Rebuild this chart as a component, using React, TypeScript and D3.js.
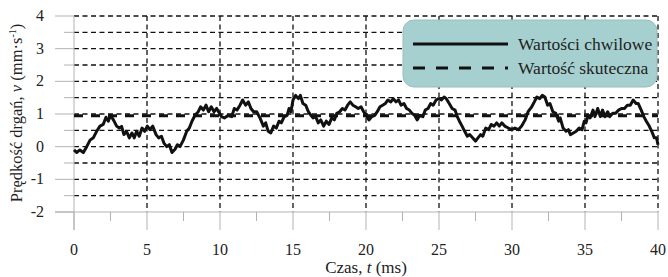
import React from "react";
import * as d3 from "d3";

// time (ms) and instantaneous velocity (mm/s)
const times = [
  0, 0.18, 0.4, 0.64, 0.87, 1.1, 1.32, 1.55, 1.78, 2.0, 2.19, 2.35, 2.5, 2.7, 2.92, 3.1, 3.26, 3.42, 3.6, 3.79,
  3.97, 4.13, 4.29, 4.47, 4.66, 4.84, 5.02, 5.2, 5.39, 5.62, 5.8, 5.99, 6.16, 6.35, 6.53, 6.71, 6.92, 7.08, 7.26, 7.49,
  7.72, 7.9, 8.08, 8.29, 8.51, 8.67, 8.86, 9.04, 9.22, 9.4, 9.59, 9.77, 9.9, 10.1, 10.3, 10.57, 10.8, 10.98, 11.16, 11.37,
  11.55, 11.76, 11.94, 12.12, 12.3, 12.51, 12.74, 12.97, 13.13, 13.3, 13.48, 13.67, 13.86, 14.04, 14.2, 14.4, 14.6, 14.73, 14.86, 15.0,
  15.18, 15.37, 15.5, 15.68, 15.87, 16.05, 16.23, 16.37, 16.55, 16.73, 16.9, 17.1, 17.28, 17.47, 17.65, 17.83, 18.0, 18.2, 18.38, 18.56,
  18.74, 18.92, 19.1, 19.29, 19.47, 19.66, 19.84, 20.0, 20.2, 20.4, 20.6, 20.77, 20.96, 21.14, 21.32, 21.5, 21.7, 21.87, 22.05, 22.23,
  22.4, 22.6, 22.78, 22.97, 23.15, 23.33, 23.5, 23.7, 23.9, 24.06, 24.25, 24.43, 24.6, 24.8, 24.97, 25.16, 25.35, 25.5, 25.7, 25.9,
  26.1, 26.25, 26.4, 26.58, 26.76, 26.94, 27.1, 27.3, 27.5, 27.67, 27.85, 28.0, 28.2, 28.4, 28.58, 28.77, 28.95, 29.13, 29.3, 29.5,
  29.75, 29.98, 30.2, 30.43, 30.66, 30.9, 31.1, 31.35, 31.53, 31.7, 31.9, 32.07, 32.25, 32.44, 32.6, 32.8, 33.0, 33.2, 33.3, 33.5,
  33.7, 33.86, 34.0, 34.2, 34.4, 34.6, 34.8, 34.95, 35.07, 35.2, 35.35, 35.55, 35.68, 35.87, 36.05, 36.2, 36.37, 36.55, 36.7, 36.9,
  37.1, 37.3, 37.5, 37.7, 37.9, 38.1, 38.3, 38.5, 38.65, 38.85, 39.03, 39.2, 39.4, 39.57, 39.75, 39.9, 40.0,
];
const velocity = [
  -0.1, -0.18, -0.1, -0.18, 0.0, 0.2, 0.27, 0.47, 0.63, 0.68, 0.9, 0.78, 0.96, 0.82, 0.63, 0.57, 0.62, 0.37, 0.47, 0.27,
  0.42, 0.27, 0.47, 0.32, 0.57, 0.47, 0.63, 0.52, 0.63, 0.37, 0.27, 0.32, 0.11, 0.0, 0.06, -0.18, -0.08, 0.06, 0.0, 0.2,
  0.47, 0.57, 0.78, 0.96, 1.07, 1.22, 1.12, 1.27, 1.07, 1.22, 1.07, 1.17, 1.07, 0.92, 0.88, 0.96, 0.92, 1.17, 1.12, 1.27,
  1.43, 1.27, 1.37, 1.17, 1.07, 1.07, 0.88, 0.63, 0.73, 0.47, 0.42, 0.63, 0.57, 0.78, 0.73, 0.92, 0.96, 1.17, 1.07, 1.43,
  1.57, 1.47, 1.57, 1.32, 1.27, 1.07, 0.96, 0.88, 0.92, 0.73, 0.82, 0.63, 0.78, 0.68, 0.88, 0.82, 1.02, 1.07, 1.17, 1.12,
  1.27, 1.37, 1.27, 1.22, 1.17, 1.22, 1.07, 0.96, 0.82, 0.92, 0.96, 1.07, 1.22, 1.27, 1.32, 1.43, 1.37, 1.47, 1.37, 1.43,
  1.27, 1.32, 1.17, 1.12, 1.02, 0.96, 0.82, 0.96, 0.92, 1.12, 1.17, 1.32, 1.27, 1.43, 1.47, 1.43, 1.52, 1.47, 1.32, 1.17,
  1.12, 0.92, 0.78, 0.63, 0.47, 0.32, 0.37, 0.27, 0.17, 0.27, 0.37, 0.32, 0.57, 0.52, 0.68, 0.63, 0.73, 0.63, 0.73, 0.63,
  0.57, 0.52, 0.57, 0.52, 0.63, 0.82, 1.07, 1.22, 1.37, 1.52, 1.47, 1.57, 1.52, 1.27, 1.32, 1.07, 1.02, 0.78, 0.88, 0.57,
  0.47, 0.52, 0.37, 0.42, 0.47, 0.57, 0.52, 0.78, 0.73, 0.96, 0.88, 1.12, 0.92, 1.17, 0.92, 1.12, 0.92, 1.07, 0.92, 1.02,
  1.02, 1.12, 1.17, 1.17, 1.27, 1.27, 1.43, 1.32, 1.32, 1.12, 0.92, 0.78, 0.63, 0.47, 0.27, 0.27, 0.06,
];
const rmsValue = 0.95;

const xTicks = [0, 5, 10, 15, 20, 25, 30, 35, 40];
const xMinorTicks = [2.5, 7.5, 12.5, 17.5, 22.5, 27.5, 32.5, 37.5];
const yTicks = [-2, -1, 0, 1, 2, 3, 4];
const yGrid = [-1.5, -1, -0.5, 0, 0.5, 1, 1.5, 2, 2.5, 3, 3.5, 4];
const yMinorTicks = [-1.5, -0.5, 0.5, 1.5, 2.5, 3.5];

const legendLabels = ["Wartości chwilowe", "Wartość skuteczna"];

const W = 668;
const H = 277;
const serif = { fontFamily: "Liberation Serif" };

export default function App() {
  const x = d3.scaleLinear().domain([0, 40]).range([74, 658]);
  const y = d3.scaleLinear().domain([-2, 4]).range([212, 16]);

  const pts = times.map((t, i) => [t, velocity[i]] as [number, number]);
  const line = d3
    .line<[number, number]>()
    .x((d) => x(d[0]))
    .y((d) => y(d[1]))
    .curve(d3.curveLinear);

  const axisCol = "#b3b3b3";

  return (
    <svg width={W} height={H} style={{ position: "absolute", left: 0, top: 0 }}>
      <rect width={W} height={H} fill="#fff" />

      {/* horizontal dashed grid */}
      {yGrid.map((v) => (
        <line key={"hg" + v} x1={x(0)} x2={x(40)} y1={y(v)} y2={y(v)} stroke="#111" strokeWidth={1.3} strokeDasharray="5,3.5" />
      ))}
      {/* vertical dashed grid */}
      {xTicks.slice(1).map((t) => (
        <line key={"vg" + t} x1={x(t)} x2={x(t)} y1={y(4)} y2={y(-2)} stroke="#111" strokeWidth={1.3} strokeDasharray="5,3.5" />
      ))}

      {/* axes */}
      <line x1={55} x2={x(40)} y1={y(-2)} y2={y(-2)} stroke={axisCol} strokeWidth={1} />
      <line x1={x(0)} x2={x(0)} y1={y(4)} y2={y(-2) + 18} stroke={axisCol} strokeWidth={1} />
      {yTicks.map((v) => (
        <line key={"yt" + v} x1={55} x2={x(0)} y1={y(v)} y2={y(v)} stroke={axisCol} strokeWidth={1} />
      ))}
      {yMinorTicks.map((v) => (
        <line key={"ym" + v} x1={64} x2={x(0)} y1={y(v)} y2={y(v)} stroke={axisCol} strokeWidth={1} />
      ))}
      {xTicks.map((t) => (
        <line key={"xt" + t} x1={x(t)} x2={x(t)} y1={y(-2)} y2={y(-2) + 18} stroke={axisCol} strokeWidth={1} />
      ))}
      {xMinorTicks.map((t) => (
        <line key={"xm" + t} x1={x(t)} x2={x(t)} y1={y(-2)} y2={y(-2) + 9} stroke={axisCol} strokeWidth={1} />
      ))}

      {/* tick labels */}
      {yTicks.map((v) => (
        <text key={"yl" + v} x={44} y={y(v) + 5} textAnchor="end" fontSize={16} fill="#222" style={serif}>
          {v}
        </text>
      ))}
      {xTicks.map((t) => (
        <text key={"xl" + t} x={x(t)} y={255} textAnchor="middle" fontSize={16} fill="#222" style={serif}>
          {t}
        </text>
      ))}

      {/* RMS value */}
      <line x1={x(0)} x2={x(40)} y1={y(rmsValue)} y2={y(rmsValue)} stroke="#111" strokeWidth={3} strokeDasharray="9,8" />
      {/* instantaneous values */}
      <path d={line(pts) ?? ""} fill="none" stroke="#111" strokeWidth={3} strokeLinejoin="round" />

      {/* axis titles */}
      <text x={366} y={273} textAnchor="middle" fontSize={17} fill="#222" style={serif}>
        Czas, <tspan fontStyle="italic">t</tspan> (ms)
      </text>
      <text transform={`translate(22,${113}) rotate(-90)`} textAnchor="middle" fontSize={16.5} fill="#222" style={serif}>
        Prędkość drgań, <tspan fontStyle="italic">v</tspan> (mm·s
        <tspan dy={-6} fontSize={10}>-1</tspan>
        <tspan dy={6}>)</tspan>
      </text>

      {/* legend */}
      <g>
        <rect x={403} y={20} width={254} height={67} rx={11} fill="#a6d0cf" stroke="#98bdbc" strokeWidth={1} />
        <line x1={413} x2={508} y1={44} y2={44} stroke="#111" strokeWidth={3} />
        <line x1={413} x2={508} y1={68} y2={68} stroke="#111" strokeWidth={3} strokeDasharray="12,11" />
        {legendLabels.map((l, i) => (
          <text key={l} x={518} y={50 + i * 24} fontSize={17.5} fill="#222" style={serif}>
            {l}
          </text>
        ))}
      </g>
    </svg>
  );
}
